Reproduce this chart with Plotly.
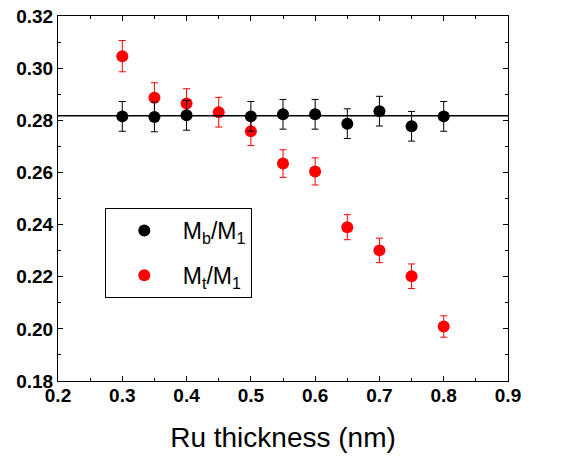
import plotly.graph_objects as go

thickness = [0.3, 0.35, 0.4, 0.45, 0.5, 0.55, 0.6, 0.65, 0.7, 0.75, 0.8]
thick_b = [0.3, 0.35, 0.4, 0.5, 0.55, 0.6, 0.65, 0.7, 0.75, 0.8]
mb_m1 = [0.2815, 0.2813, 0.2819, 0.2815, 0.2823, 0.2823, 0.2787, 0.2835, 0.2777, 0.2815]
mb_err = [0.0057, 0.0057, 0.0057, 0.0057, 0.0057, 0.0057, 0.0057, 0.0057, 0.0057, 0.0057]
mt_m1 = [0.3046, 0.2886, 0.2864, 0.2831, 0.2758, 0.2634, 0.2604, 0.2390, 0.2301, 0.2202, 0.2009]
mt_err = [0.006, 0.0058, 0.0057, 0.0057, 0.0055, 0.0053, 0.0052, 0.0048, 0.0047, 0.0047, 0.0041]
ref_line = 0.2817
x_ticks = [0.2, 0.3, 0.4, 0.5, 0.6, 0.7, 0.8, 0.9]
y_ticks = [0.18, 0.20, 0.22, 0.24, 0.26, 0.28, 0.30, 0.32]

FONT = "Arial, Liberation Sans, sans-serif"

fig = go.Figure()
fig.add_trace(go.Scatter(
    x=thickness, y=mt_m1, mode="markers", name="M<sub>t</sub>/M<sub>1</sub>",
    marker=dict(color="#ff0000", size=12),
    error_y=dict(type="data", array=mt_err, color="#ff0000", thickness=1, width=3.5),
    legendrank=2, legendgroup="t",
))
fig.add_trace(go.Scatter(
    x=thick_b, y=mb_m1, mode="markers", name="M<sub>b</sub>/M<sub>1</sub>",
    marker=dict(color="#000000", size=12),
    error_y=dict(type="data", array=mb_err, color="#000000", thickness=1, width=3.5),
    legendrank=1, legendgroup="b",
))
fig.add_shape(type="line", xref="paper", x0=0, x1=1, yref="y", y0=ref_line, y1=ref_line,
              line=dict(color="black", width=1.5))

axis_common = dict(
    showline=True, linecolor="black", linewidth=1, mirror="ticks",
    ticks="inside", ticklen=5, tickwidth=1, tickcolor="black",
    showgrid=False, zeroline=False, automargin=False,
    tickfont=dict(family=FONT, size=19, color="black"),
)
fig.update_xaxes(
    range=[0.2, 0.9], tickvals=x_ticks, ticktext=[f"<b>{v:.1f}</b>" for v in x_ticks],
    minor=dict(ticks="inside", ticklen=3, dtick=0.05, tickcolor="black"),
    ticklabelstandoff=-3,
    title=dict(text="Ru thickness (nm)", font=dict(family=FONT, size=28, color="black"), standoff=22),
    **axis_common,
)
fig.update_yaxes(
    range=[0.18, 0.32], tickvals=y_ticks, ticktext=[f"<b>{v:.2f}</b>" for v in y_ticks],
    minor=dict(ticks="inside", ticklen=3, dtick=0.01, tickcolor="black"),
    **axis_common,
)
fig.update_layout(
    width=569, height=459,
    margin=dict(l=58, r=61, t=16, b=78),
    plot_bgcolor="white", paper_bgcolor="white",
    showlegend=True,
    legend=dict(
        x=0.104, y=0.474, xanchor="left", yanchor="top",
        bordercolor="black", borderwidth=1, bgcolor="white",
        font=dict(family=FONT, size=23, color="black"),
        itemsizing="constant", itemwidth=67, traceorder="grouped", tracegroupgap=12,
    ),
)
fig.write_html("out.html", config={"displayModeBar": False},
               post_script="document.body.style.margin='0px';")
